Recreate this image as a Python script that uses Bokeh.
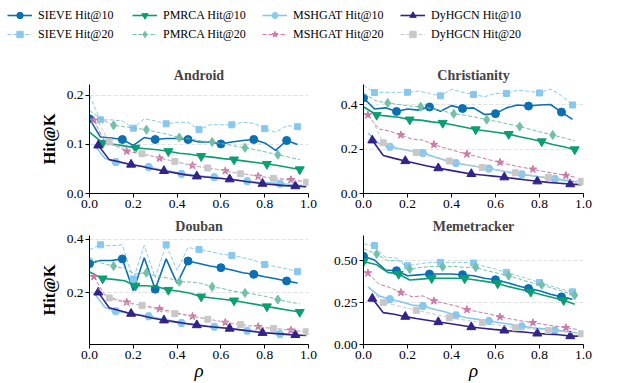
from bokeh.plotting import figure
from bokeh.layouts import column, row
from bokeh.models import Legend, LegendItem, FixedTicker, NumeralTickFormatter, Range1d
from bokeh.embed import file_html
from bokeh.resources import INLINE

# ---------------- data ----------------
X_TICKS = [0.0, 0.2, 0.4, 0.6, 0.8, 1.0]
RHO_SIEVE = [0.00, 0.05, 0.10, 0.15, 0.20, 0.25, 0.30, 0.35, 0.40, 0.45, 0.50, 0.55, 0.60, 0.65, 0.70, 0.75, 0.80, 0.85, 0.90, 0.95]
RHO_PMRCA = [0.00, 0.06, 0.11, 0.16, 0.21, 0.26, 0.31, 0.36, 0.41, 0.46, 0.51, 0.56, 0.61, 0.66, 0.71, 0.76, 0.81, 0.86, 0.91, 0.96]
RHO_MSHGAT = [0.02, 0.07, 0.12, 0.17, 0.22, 0.27, 0.32, 0.37, 0.42, 0.47, 0.52, 0.57, 0.62, 0.67, 0.72, 0.77, 0.82, 0.87, 0.92, 0.97]
RHO_DYHGCN = [0.04, 0.09, 0.14, 0.19, 0.24, 0.29, 0.34, 0.39, 0.44, 0.49, 0.54, 0.59, 0.64, 0.69, 0.74, 0.79, 0.84, 0.89, 0.94, 0.99]

ANDROID_SIEVE_10 = [0.152, 0.115, 0.113, 0.110, 0.098, 0.114, 0.110, 0.112, 0.112, 0.110, 0.105, 0.105, 0.101, 0.105, 0.108, 0.110, 0.103, 0.088, 0.108, 0.100]
ANDROID_SIEVE_20 = [0.200, 0.150, 0.150, 0.148, 0.133, 0.152, 0.148, 0.142, 0.145, 0.145, 0.130, 0.140, 0.140, 0.140, 0.145, 0.143, 0.132, 0.125, 0.138, 0.136]
ANDROID_PMRCA_10 = [0.125, 0.103, 0.100, 0.097, 0.093, 0.091, 0.089, 0.086, 0.082, 0.080, 0.076, 0.074, 0.071, 0.069, 0.066, 0.063, 0.060, 0.057, 0.053, 0.049]
ANDROID_PMRCA_20 = [0.169, 0.150, 0.139, 0.136, 0.133, 0.130, 0.125, 0.120, 0.114, 0.111, 0.107, 0.105, 0.101, 0.097, 0.093, 0.089, 0.084, 0.079, 0.074, 0.069]
ANDROID_MSHGAT_10 = [0.100, 0.072, 0.064, 0.060, 0.057, 0.054, 0.049, 0.045, 0.040, 0.038, 0.035, 0.033, 0.030, 0.028, 0.025, 0.023, 0.022, 0.020, 0.018, 0.016]
ANDROID_MSHGAT_20 = [0.149, 0.105, 0.097, 0.086, 0.082, 0.078, 0.072, 0.067, 0.062, 0.057, 0.053, 0.050, 0.046, 0.042, 0.039, 0.035, 0.032, 0.030, 0.028, 0.025]
ANDROID_DYHGCN_10 = [0.098, 0.069, 0.064, 0.059, 0.055, 0.050, 0.046, 0.042, 0.038, 0.035, 0.033, 0.031, 0.029, 0.026, 0.023, 0.020, 0.018, 0.016, 0.015, 0.014]
ANDROID_DYHGCN_20 = [0.145, 0.105, 0.095, 0.088, 0.081, 0.076, 0.070, 0.065, 0.060, 0.056, 0.052, 0.048, 0.044, 0.040, 0.037, 0.034, 0.031, 0.028, 0.025, 0.023]

CHRIST_SIEVE_10 = [0.430, 0.380, 0.385, 0.369, 0.380, 0.375, 0.389, 0.370, 0.395, 0.382, 0.385, 0.355, 0.359, 0.385, 0.398, 0.393, 0.398, 0.400, 0.366, 0.333]
CHRIST_SIEVE_20 = [0.486, 0.454, 0.455, 0.455, 0.455, 0.460, 0.450, 0.439, 0.468, 0.455, 0.445, 0.435, 0.450, 0.450, 0.465, 0.460, 0.452, 0.470, 0.440, 0.398]
CHRIST_PMRCA_10 = [0.390, 0.353, 0.348, 0.343, 0.332, 0.330, 0.322, 0.317, 0.308, 0.298, 0.288, 0.281, 0.274, 0.267, 0.255, 0.245, 0.234, 0.220, 0.210, 0.198]
CHRIST_PMRCA_20 = [0.450, 0.415, 0.407, 0.400, 0.393, 0.390, 0.382, 0.372, 0.358, 0.352, 0.343, 0.332, 0.323, 0.312, 0.301, 0.288, 0.275, 0.263, 0.250, 0.236]
CHRIST_MSHGAT_10 = [0.272, 0.225, 0.210, 0.200, 0.190, 0.182, 0.165, 0.150, 0.137, 0.128, 0.120, 0.112, 0.103, 0.094, 0.086, 0.079, 0.072, 0.065, 0.058, 0.052]
CHRIST_MSHGAT_20 = [0.353, 0.290, 0.280, 0.263, 0.245, 0.240, 0.220, 0.205, 0.190, 0.177, 0.165, 0.152, 0.140, 0.128, 0.118, 0.109, 0.099, 0.090, 0.081, 0.072]
CHRIST_DYHGCN_10 = [0.239, 0.171, 0.158, 0.146, 0.135, 0.124, 0.114, 0.105, 0.096, 0.088, 0.083, 0.078, 0.073, 0.067, 0.061, 0.055, 0.050, 0.046, 0.042, 0.040]
CHRIST_DYHGCN_20 = [0.330, 0.228, 0.210, 0.195, 0.184, 0.170, 0.158, 0.146, 0.136, 0.126, 0.117, 0.109, 0.101, 0.093, 0.086, 0.079, 0.073, 0.066, 0.060, 0.055]

DOUBAN_SIEVE_10 = [0.309, 0.321, 0.321, 0.327, 0.207, 0.331, 0.213, 0.327, 0.235, 0.319, 0.310, 0.300, 0.294, 0.285, 0.275, 0.269, 0.260, 0.252, 0.244, 0.236]
DOUBAN_SIEVE_20 = [0.362, 0.380, 0.376, 0.380, 0.251, 0.377, 0.257, 0.380, 0.284, 0.370, 0.362, 0.355, 0.345, 0.340, 0.332, 0.322, 0.306, 0.298, 0.290, 0.279]
DOUBAN_PMRCA_10 = [0.278, 0.253, 0.250, 0.245, 0.226, 0.226, 0.222, 0.210, 0.205, 0.198, 0.185, 0.180, 0.175, 0.170, 0.163, 0.156, 0.148, 0.141, 0.134, 0.127]
DOUBAN_PMRCA_20 = [0.331, 0.310, 0.300, 0.290, 0.270, 0.275, 0.260, 0.255, 0.241, 0.240, 0.235, 0.222, 0.215, 0.205, 0.199, 0.193, 0.185, 0.174, 0.165, 0.158]
DOUBAN_MSHGAT_10 = [0.200, 0.145, 0.130, 0.125, 0.118, 0.111, 0.103, 0.095, 0.086, 0.081, 0.076, 0.072, 0.067, 0.062, 0.057, 0.053, 0.048, 0.044, 0.041, 0.039]
DOUBAN_MSHGAT_20 = [0.260, 0.190, 0.175, 0.164, 0.155, 0.148, 0.139, 0.130, 0.120, 0.111, 0.104, 0.096, 0.088, 0.082, 0.077, 0.072, 0.067, 0.063, 0.059, 0.055]
DOUBAN_DYHGCN_10 = [0.201, 0.143, 0.132, 0.121, 0.113, 0.104, 0.096, 0.090, 0.084, 0.078, 0.073, 0.069, 0.065, 0.060, 0.055, 0.049, 0.047, 0.044, 0.041, 0.039]
DOUBAN_DYHGCN_20 = [0.215, 0.180, 0.165, 0.158, 0.152, 0.140, 0.130, 0.121, 0.114, 0.107, 0.100, 0.093, 0.087, 0.080, 0.075, 0.070, 0.065, 0.061, 0.057, 0.053]

MEME_SIEVE_10 = [0.526, 0.504, 0.444, 0.440, 0.410, 0.415, 0.420, 0.420, 0.420, 0.416, 0.410, 0.395, 0.386, 0.370, 0.350, 0.334, 0.320, 0.300, 0.284, 0.270]
MEME_SIEVE_20 = [0.600, 0.590, 0.520, 0.515, 0.470, 0.480, 0.490, 0.490, 0.490, 0.490, 0.486, 0.465, 0.450, 0.430, 0.410, 0.390, 0.370, 0.350, 0.330, 0.314]
MEME_PMRCA_10 = [0.495, 0.475, 0.430, 0.420, 0.385, 0.390, 0.395, 0.395, 0.395, 0.394, 0.385, 0.375, 0.364, 0.345, 0.330, 0.314, 0.297, 0.280, 0.264, 0.240]
MEME_PMRCA_20 = [0.570, 0.540, 0.500, 0.500, 0.450, 0.460, 0.465, 0.464, 0.465, 0.460, 0.460, 0.440, 0.425, 0.410, 0.390, 0.370, 0.356, 0.335, 0.315, 0.294]
MEME_MSHGAT_10 = [0.344, 0.290, 0.270, 0.255, 0.235, 0.230, 0.210, 0.195, 0.174, 0.160, 0.150, 0.140, 0.130, 0.120, 0.108, 0.100, 0.093, 0.084, 0.078, 0.070]
MEME_MSHGAT_20 = [0.426, 0.360, 0.340, 0.310, 0.285, 0.290, 0.260, 0.245, 0.230, 0.208, 0.195, 0.183, 0.164, 0.152, 0.140, 0.130, 0.120, 0.110, 0.100, 0.090]
MEME_DYHGCN_10 = [0.274, 0.190, 0.180, 0.166, 0.155, 0.145, 0.134, 0.125, 0.115, 0.104, 0.097, 0.090, 0.084, 0.078, 0.073, 0.066, 0.062, 0.058, 0.050, 0.050]
MEME_DYHGCN_20 = [0.320, 0.250, 0.235, 0.220, 0.204, 0.190, 0.175, 0.160, 0.150, 0.140, 0.130, 0.120, 0.110, 0.100, 0.095, 0.090, 0.084, 0.078, 0.072, 0.064]

LABELS = ["SIEVE Hit@10", "SIEVE Hit@20", "PMRCA Hit@10", "PMRCA Hit@20",
          "MSHGAT Hit@10", "MSHGAT Hit@20", "DyHGCN Hit@10", "DyHGCN Hit@20"]
RHOS = [RHO_SIEVE, RHO_SIEVE, RHO_PMRCA, RHO_PMRCA, RHO_MSHGAT, RHO_MSHGAT, RHO_DYHGCN, RHO_DYHGCN]

# ---------------- style ----------------
FONT = "Liberation Serif"
STYLES = [
    dict(color="#0a6fb3", dash="solid", lw=1.6, marker="circle", size=8),
    dict(color="#88c8ee", dash="4 2", lw=1.0, marker="square", size=6),
    dict(color="#0a9e73", dash="solid", lw=1.6, marker="inverted_triangle", size=9),
    dict(color="#72c0a8", dash="4 2", lw=1.0, marker="diamond", size=9),
    dict(color="#85c8f0", dash="solid", lw=1.6, marker="hex", size=8),
    dict(color="#cc79a7", dash="4 2", lw=1.0, marker="star", size=8),
    dict(color="#332288", dash="solid", lw=1.6, marker="triangle", size=9),
    dict(color="#c8c8c8", dash="4 2", lw=1.0, marker="square", size=6),
]
MARK_START = [0, 1, 1, 2, 2, 0, 0, 1]
MARK_START_MEME = [0, 1, 0, 1, 2, 0, 0, 1]


def make_panel(title, ys, y0, y1, ticks, fmt, w, h, bl, br, bt, bb, ylabel, starts, xlabel, tstand):
    p = figure(width=w, height=h, x_range=Range1d(0, 1), y_range=Range1d(y0, y1),
               output_backend="svg", toolbar_location=None, title=title,
               min_border_left=bl, min_border_right=br, min_border_top=bt, min_border_bottom=bb)
    p.title.text_font = FONT
    p.title.text_font_size = "14px"
    p.title.text_font_style = "bold"
    p.title.align = "center"
    p.title.standoff = tstand
    p.outline_line_color = None
    p.xgrid.visible = False
    p.ygrid.grid_line_color = "#d9d9d9"
    p.ygrid.grid_line_dash = "4 2"
    p.ygrid.grid_line_width = 0.8
    p.xaxis.ticker = FixedTicker(ticks=X_TICKS)
    p.yaxis.ticker = FixedTicker(ticks=ticks)
    p.xaxis.formatter = NumeralTickFormatter(format="0.0")
    p.yaxis.formatter = NumeralTickFormatter(format=fmt)
    for ax in (p.xaxis[0], p.yaxis[0]):
        ax.major_label_text_font = FONT
        ax.major_label_text_font_size = "13.5px"
        ax.major_label_text_color = "black"
        ax.axis_line_color = "black"
        ax.axis_line_width = 1
        ax.major_tick_line_color = "black"
        ax.major_tick_out = 4
        ax.major_tick_in = 0
        ax.minor_tick_out = 0
        ax.minor_tick_in = 0
        ax.major_label_standoff = 2
    if ylabel:
        p.yaxis.axis_label = "Hit@K"
        p.yaxis.axis_label_text_font = FONT
        p.yaxis.axis_label_text_font_size = "16.5px"
        p.yaxis.axis_label_text_font_style = "bold"
        p.yaxis.axis_label_text_color = "black"
        p.yaxis.axis_label_standoff = 5
    if xlabel:
        p.xaxis.axis_label = "ρ"
        p.xaxis.axis_label_text_font = FONT
        p.xaxis.axis_label_text_font_size = "19px"
        p.xaxis.axis_label_text_font_style = "italic"
        p.xaxis.axis_label_text_color = "black"
        p.xaxis.axis_label_standoff = -2
    for i, (rho, y) in enumerate(zip(RHOS, ys)):
        s = STYLES[i]
        p.line(rho, y, line_color=s["color"], line_width=s["lw"], line_dash=s["dash"])
        st = starts[i]
        p.scatter(rho[st::3], y[st::3], marker=s["marker"], size=s["size"],
                  fill_color=s["color"], line_color=s["color"])
    return p


W_L, W_R = 325, 270
H_TOP, H_BOT = 157, 168

ANDROID = [ANDROID_SIEVE_10, ANDROID_SIEVE_20, ANDROID_PMRCA_10, ANDROID_PMRCA_20,
           ANDROID_MSHGAT_10, ANDROID_MSHGAT_20, ANDROID_DYHGCN_10, ANDROID_DYHGCN_20]
a = make_panel("Android", ANDROID,
               0.0, 0.222, [0.0, 0.1, 0.2], "0.0", W_L, H_TOP, 89, 17, 26, 22, True, MARK_START, False, 4)
b = make_panel("Christianity", [CHRIST_SIEVE_10, CHRIST_SIEVE_20, CHRIST_PMRCA_10, CHRIST_PMRCA_20,
                                CHRIST_MSHGAT_10, CHRIST_MSHGAT_20, CHRIST_DYHGCN_10, CHRIST_DYHGCN_20],
               0.0, 0.49, [0.0, 0.2, 0.4], "0.0", W_R, H_TOP, 38, 12, 26, 22, False, MARK_START, False, 4)
c = make_panel("Douban", [DOUBAN_SIEVE_10, DOUBAN_SIEVE_20, DOUBAN_PMRCA_10, DOUBAN_PMRCA_20,
                          DOUBAN_MSHGAT_10, DOUBAN_MSHGAT_20, DOUBAN_DYHGCN_10, DOUBAN_DYHGCN_20],
               0.005, 0.415, [0.2, 0.4], "0.0", W_L, H_BOT, 89, 17, 20, 39, True, MARK_START, True, 3)
d = make_panel("Memetracker", [MEME_SIEVE_10, MEME_SIEVE_20, MEME_PMRCA_10, MEME_PMRCA_20,
                               MEME_MSHGAT_10, MEME_MSHGAT_20, MEME_DYHGCN_10, MEME_DYHGCN_20],
               0.0, 0.65, [0.0, 0.25, 0.5], "0.00", W_R, H_BOT, 38, 12, 20, 39, False, MARK_START_MEME, True, 3)

# ---------------- legend ----------------
# The legend figure's ranges lie away from the data, so only the legend glyphs show.
LEG_H = 58
lf = figure(width=W_L + W_R, height=LEG_H, x_axis_type=None, y_axis_type=None,
            x_range=Range1d(5, 6), y_range=Range1d(5, 6),
            output_backend="svg", toolbar_location=None, min_border=0)
lf.outline_line_color = None
COL_X = [7, 132, 262, 400]
for col in range(4):
    items = []
    for i in (2 * col, 2 * col + 1):
        s = STYLES[i]
        lr = lf.line(RHOS[i], ANDROID[i], line_color=s["color"], line_width=s["lw"], line_dash=s["dash"])
        sr = lf.scatter(RHOS[i], ANDROID[i], marker=s["marker"], size=s["size"] - 1,
                        fill_color=s["color"], line_color=s["color"])
        items.append(LegendItem(label=LABELS[i], renderers=[lr, sr]))
    leg = Legend(items=items, location=(COL_X[col], 16), orientation="vertical",
                 glyph_width=25, glyph_height=16, label_height=16, label_standoff=6,
                 spacing=3, padding=0, margin=0, border_line_color=None,
                 background_fill_alpha=0, label_text_font=FONT, label_text_font_size="12px",
                 label_text_color="black")
    lf.add_layout(leg)

layout = column(lf, row(a, b), row(c, d))
open("out.html", "w").write(file_html(layout, INLINE))
